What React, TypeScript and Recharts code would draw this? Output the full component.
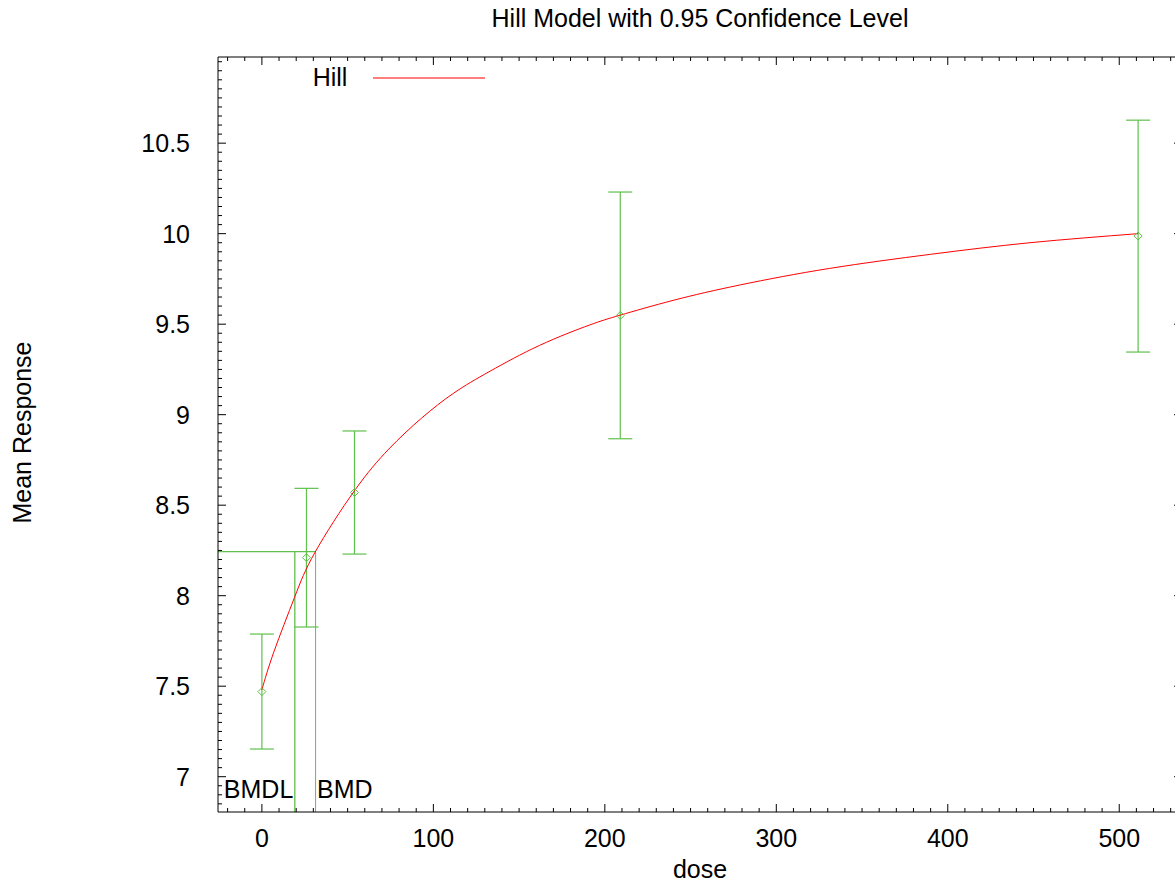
import React from 'react';
import { ComposedChart, XAxis, YAxis, Line, Scatter, ErrorBar, ReferenceLine, Legend } from 'recharts';

// observed dose groups
const doses = [0, 26, 54, 209, 511];
const means = [7.47, 8.21, 8.57, 9.548, 9.987];
const lowerCL = [7.153, 7.827, 8.23, 8.867, 9.346];
const upperCL = [7.788, 8.593, 8.91, 10.23, 10.627];

// fitted Hill curve
const curveDose = [0, 7, 19, 31, 54, 74, 93, 112, 133, 162, 191, 209, 240, 279, 331, 390, 448, 511];
const curveResp = [7.48, 7.69, 7.99, 8.24, 8.58, 8.81, 8.98, 9.12, 9.24, 9.383, 9.495, 9.55, 9.632, 9.717, 9.808, 9.886, 9.95, 10.0];

const bmdl = 19.2;
const bmd = 31.3;
const bmdResponse = 8.243;

const xDomain: [number, number] = [-25.6, 536.6];
const yDomain: [number, number] = [6.805, 10.976];

const xTicks = Array.from({ length: 56 }, (_, i) => -20 + i * 10);
const yTicks = Array.from({ length: 83 }, (_, i) => +(6.85 + i * 0.05).toFixed(2));

const GREEN = '#5fc04c';
const RED = '#ff0000';
const FONT = '"Liberation Sans", Arial, Helvetica, sans-serif';
const FS = 25;

const isMajorX = (v: number) => Math.abs(v % 100) < 1e-6;
const isMajorY = (v: number) => Math.abs(v * 2 - Math.round(v * 2)) < 1e-6;

const groups = doses.map((d, i) => ({
  dose: d,
  mean: means[i],
  err: [means[i] - lowerCL[i], upperCL[i] - means[i]],
}));
const curve = curveDose.map((d, i) => ({ dose: d, resp: curveResp[i] }));

const BottomTick = (props: any) => {
  const { x, y, payload } = props;
  const major = isMajorX(payload.value);
  return (
    <g>
      <line x1={x} y1={y} x2={x} y2={y - (major ? 8 : 4)} stroke="#000" />
      {major && (
        <text x={x} y={y + 35} textAnchor="middle" fontSize={FS} fontFamily={FONT} fill="#000">
          {payload.value}
        </text>
      )}
    </g>
  );
};

const TopTick = (props: any) => {
  const { x, y, payload } = props;
  const major = isMajorX(payload.value);
  return <line x1={x} y1={y} x2={x} y2={y + (major ? 8 : 4)} stroke="#000" />;
};

const LeftTick = (props: any) => {
  const { x, y, payload } = props;
  const major = isMajorY(payload.value);
  return (
    <g>
      <line x1={x} y1={y} x2={x + (major ? 8 : 4)} y2={y} stroke="#000" />
      {major && (
        <text x={x - 28} y={y + 9} textAnchor="end" fontSize={FS} fontFamily={FONT} fill="#000">
          {payload.value}
        </text>
      )}
    </g>
  );
};

const RightTick = (props: any) => {
  const { x, y, payload } = props;
  const major = isMajorY(payload.value);
  return <line x1={x} y1={y} x2={x - (major ? 8 : 4)} y2={y} stroke="#000" />;
};

const Diamond = (props: any) => {
  const { cx, cy } = props;
  return (
    <path
      d={`M${cx},${cy - 4}L${cx + 4},${cy}L${cx},${cy + 4}L${cx - 4},${cy}Z`}
      fill="none"
      stroke={GREEN}
      strokeWidth={1}
    />
  );
};

const HillLegend = () => (
  <div style={{ position: 'relative', width: 200, height: 28, fontFamily: FONT }}>
    <span style={{ position: 'absolute', left: 0, top: -0.5, fontSize: FS, lineHeight: '28px', color: '#000' }}>Hill</span>
    <svg width={120} height={4} style={{ position: 'absolute', left: 60, top: 12.6 }}>
      <line x1={0} y1={2} x2={112} y2={2} stroke={RED} strokeWidth={1.2} />
    </svg>
  </div>
);

const App = () => {
  return (
    <div style={{ position: 'absolute', left: 0, top: 0, width: 1175, height: 890, overflow: 'hidden', background: '#fff' }}>
      <ComposedChart width={1190} height={890} margin={{ top: 57, right: 8, bottom: 0, left: 0 }}>
        <XAxis
          dataKey="dose"
          type="number"
          domain={xDomain}
          allowDataOverflow
          ticks={xTicks}
          interval={0}
          height={78}
          tickSize={0}
          tickMargin={0}
          tickLine={false}
          tick={<BottomTick />}
          axisLine={{ stroke: '#000' }}
          label={{
            content: ({ viewBox }: any) => (
              <text x={viewBox.x + viewBox.width / 2} y={viewBox.y + 66} textAnchor="middle" fontSize={FS} fontFamily={FONT} fill="#000">
                dose
              </text>
            ),
          }}
        />
        <XAxis
          xAxisId="top"
          orientation="top"
          mirror
          dataKey="dose"
          type="number"
          domain={xDomain}
          allowDataOverflow
          ticks={xTicks}
          interval={0}
          tickSize={0}
          tickMargin={0}
          tickLine={false}
          tick={<TopTick />}
          axisLine={{ stroke: '#000' }}
          label={{
            content: ({ viewBox }: any) => (
              <text x={viewBox.x + viewBox.width / 2} y={viewBox.y - 30} textAnchor="middle" fontSize={FS} fontFamily={FONT} fill="#000">
                Hill Model with 0.95 Confidence Level
              </text>
            ),
          }}
        />
        <YAxis
          type="number"
          domain={yDomain}
          allowDataOverflow
          ticks={yTicks}
          interval={0}
          width={218}
          tickSize={0}
          tickMargin={0}
          tickLine={false}
          tick={<LeftTick />}
          axisLine={{ stroke: '#000' }}
          label={{
            content: ({ viewBox }: any) => {
              const cx = viewBox.x + 31;
              const cy = viewBox.y + viewBox.height / 2 - 2;
              return (
                <text x={cx} y={cy} transform={`rotate(-90 ${cx} ${cy})`} textAnchor="middle" fontSize={FS} fontFamily={FONT} fill="#000">
                  Mean Response
                </text>
              );
            },
          }}
        />
        <YAxis
          yAxisId="right"
          orientation="right"
          mirror
          type="number"
          domain={yDomain}
          allowDataOverflow
          ticks={yTicks}
          interval={0}
          tickSize={0}
          tickMargin={0}
          tickLine={false}
          tick={<RightTick />}
          axisLine={{ stroke: '#000' }}
        />
        <Legend
          layout="vertical"
          align="center"
          verticalAlign="middle"
          wrapperStyle={{ left: 312.7, top: 63.7, width: 200 }}
          content={() => <HillLegend />}
        />

        <ReferenceLine
          segment={[{ x: xDomain[0], y: bmdResponse }, { x: bmd, y: bmdResponse }]}
          stroke={GREEN}
          strokeWidth={1.3}
        />
        <ReferenceLine
          segment={[{ x: bmdl, y: yDomain[0] }, { x: bmdl, y: bmdResponse }]}
          stroke={GREEN}
          strokeWidth={1.3}
          label={{
            content: ({ viewBox }: any) => (
              <text x={viewBox.x - 1.5} y={viewBox.y + viewBox.height - 14} textAnchor="end" fontSize={FS} fontFamily={FONT} fill="#000">
                BMDL
              </text>
            ),
          }}
        />
        <ReferenceLine
          segment={[{ x: bmd, y: yDomain[0] }, { x: bmd, y: bmdResponse }]}
          stroke={GREEN}
          strokeWidth={1}
          label={{
            content: ({ viewBox }: any) => (
              <text x={viewBox.x + 1.5} y={viewBox.y + viewBox.height - 14} textAnchor="start" fontSize={FS} fontFamily={FONT} fill="#000">
                BMD
              </text>
            ),
          }}
        />

        <Scatter data={groups} dataKey="mean" shape={<Diamond />} legendType="none" isAnimationActive={false}>
          <ErrorBar dataKey="err" direction="y" width={12} stroke={GREEN} strokeWidth={1.2} />
        </Scatter>
        <Line
          data={curve}
          dataKey="resp"
          name="Hill"
          type="natural"
          stroke={RED}
          strokeWidth={1}
          dot={false}
          activeDot={false}
          isAnimationActive={false}
        />
      </ComposedChart>
    </div>
  );
};

export default App;
